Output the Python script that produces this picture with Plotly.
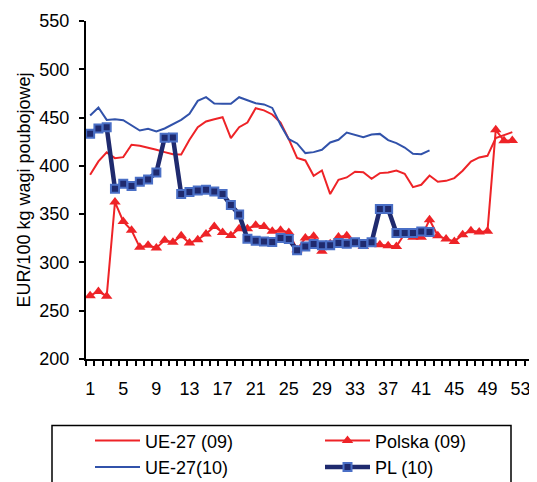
import plotly.graph_objects as go

weeks_09 = list(range(1, 53))
weeks_10 = list(range(1, 43))

ue27_09 = [390.8, 404.6, 413.9, 408.0, 409.0, 421.8, 420.8, 418.3, 416.6, 414.2,
           412.0, 411.8, 427.0, 440.0, 445.9, 448.3, 450.4, 428.7, 440.0, 444.9,
           459.7, 457.5, 453.2, 444.9, 427.6, 408.3, 405.6, 389.7, 395.2, 370.8,
           385.6, 388.0, 393.9, 393.5, 386.6, 392.5, 393.2, 395.2, 391.8, 378.0,
           380.4, 390.0, 383.5, 384.5, 387.3, 394.9, 404.5, 408.7, 410.4, 428.7,
           432.1, 434.9]

polska_09 = [265.6, 270.0, 265.0, 362.5, 342.5, 333.2, 315.6, 317.7, 315.0, 322.9,
             320.8, 327.7, 320.1, 323.5, 329.4, 337.3, 331.1, 328.0, 334.9, 334.9,
             338.4, 337.3, 332.2, 333.2, 331.1, 313.2, 325.3, 327.0, 311.5, 319.4,
             326.3, 327.7, 320.0, 316.6, 320.0, 318.4, 317.3, 316.6, 329.7, 326.0,
             326.0, 344.2, 327.7, 324.2, 321.8, 328.7, 332.9, 331.5, 332.2, 437.3,
             425.9, 426.3]

ue27_10 = [452.1, 460.4, 447.6, 448.3, 447.3, 441.8, 436.6, 438.3, 435.6, 438.7,
           443.5, 447.6, 453.8, 467.3, 471.1, 464.5, 464.2, 464.2, 471.1, 468.3,
           464.9, 463.6, 460.0, 442.5, 427.6, 423.2, 413.2, 414.2, 416.6, 424.2,
           427.0, 434.5, 432.2, 429.7, 432.5, 433.1, 426.6, 423.5, 419.0, 412.5,
           412.1, 416.0]

pl_10 = [433.2, 438.7, 440.1, 376.3, 381.5, 379.1, 383.5, 386.0, 393.2, 429.0,
         429.4, 370.8, 372.8, 374.6, 375.3, 373.5, 370.8, 359.4, 349.7, 324.6,
         322.5, 321.8, 321.1, 325.3, 324.2, 312.5, 316.6, 319.1, 317.7, 317.7,
         320.1, 319.4, 320.8, 319.0, 320.8, 355.2, 355.2, 330.4, 330.4, 330.4,
         332.1, 331.5]

x_tick_vals = list(range(1, 54, 4))
y_tick_vals = [200, 250, 300, 350, 400, 450, 500, 550]

RED = "#EE2327"
BLUE = "#3152AA"
NAVY = "#1F2A6E"
LIGHTBLUE = "#4A6FC6"
FONT = "Liberation Sans, Arial, sans-serif"

fig = go.Figure()
fig.add_trace(go.Scatter(x=weeks_09, y=ue27_09, name="UE-27 (09)", mode="lines",
                         legend="legend",
                         line=dict(color=RED, width=2)))
fig.add_trace(go.Scatter(x=weeks_09, y=polska_09, name="Polska (09)", mode="lines+markers",
                         legend="legend2",
                         line=dict(color=RED, width=2),
                         marker=dict(symbol="triangle-up", size=10, color=RED)))
fig.add_trace(go.Scatter(x=weeks_10, y=ue27_10, name="UE-27(10)", mode="lines",
                         legend="legend",
                         line=dict(color=BLUE, width=2)))
fig.add_trace(go.Scatter(x=weeks_10, y=pl_10, name="PL (10)", mode="lines+markers",
                         legend="legend2",
                         line=dict(color=NAVY, width=4.5),
                         marker=dict(symbol="square", size=8, color=NAVY,
                                     line=dict(color=LIGHTBLUE, width=2))))

# The page body has an 8px margin, so the figure is sized to fill the window.
OFF = 8
W, H = 537 - OFF, 482 - OFF
L, T = 86 - OFF, 21 - OFF
R = W - (533 - OFF)
B = H - (359.5 - OFF)
pw, ph = W - L - R, H - T - B

def px_x(p):  # page pixel -> paper x
    return (p - OFF - L) / pw

def px_y(p):  # page pixel -> paper y
    return (H - B - (p - OFF)) / ph

legend_common = dict(orientation="v", yanchor="top", xanchor="left",
                     itemwidth=45, font=dict(size=18),
                     bgcolor="rgba(0,0,0,0)", tracegroupgap=0)

fig.update_layout(
    width=W, height=H,
    margin=dict(l=L, r=R, t=T, b=B, autoexpand=False),
    paper_bgcolor="white", plot_bgcolor="white",
    font=dict(family=FONT, size=18, color="black"),
    showlegend=True,
    legend=dict(x=px_x(90), y=px_y(423), **legend_common),
    legend2=dict(x=px_x(320), y=px_y(423), **legend_common),
    shapes=[dict(type="rect", xref="paper", yref="paper",
                 x0=px_x(52), x1=px_x(511), y0=px_y(426), y1=px_y(520),
                 line=dict(color="black", width=1.5), fillcolor="rgba(0,0,0,0)")],
)

fig.update_xaxes(
    range=[0.5, 54.5], tickmode="array", tickvals=x_tick_vals,
    ticktext=[str(v) for v in x_tick_vals],
    ticks="", showgrid=False, zeroline=False,
    showline=True, linecolor="black", linewidth=2,
    tickfont=dict(size=18), ticklabelstandoff=12, automargin=False,
    minor=dict(ticks="outside", ticklen=5, tickwidth=1.5, tickcolor="black",
               tick0=0.5, dtick=1, showgrid=False),
)
fig.update_yaxes(
    range=[200, 550], tickmode="array", tickvals=y_tick_vals,
    ticks="outside", ticklen=5, tickwidth=1.5, tickcolor="black",
    showgrid=False, zeroline=False,
    showline=True, linecolor="black", linewidth=2,
    tickfont=dict(size=18), ticklabelstandoff=6, automargin=False,
    title=dict(text="EUR/100 kg wagi poubojowej", font=dict(size=18), standoff=4),
)

fig.write_html("out.html")
